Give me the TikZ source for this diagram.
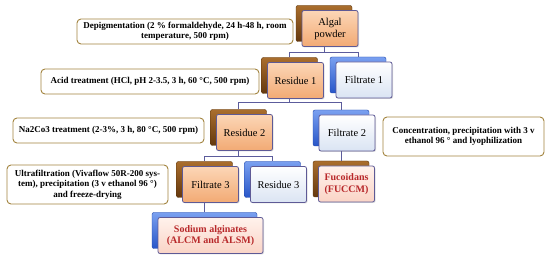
\documentclass[tikz,border=0pt]{standalone}
\usepackage{fontspec}
\setmainfont{Liberation Serif}
\usetikzlibrary{shadows}
\definecolor{frameline}{HTML}{5E5A96}
\definecolor{connline}{HTML}{5C5C9C}
\definecolor{annline}{HTML}{A3843F}
\definecolor{redtext}{HTML}{B8282A}
\begin{document}
\begin{tikzpicture}[x=1pt,y=-1pt,
  front/.style={draw=frameline,line width=0.8pt,rounded corners=2pt,minimum width=56pt,minimum height=36pt,inner sep=1pt,align=center,font=\fontsize{10.5}{12}\selectfont,drop shadow={opacity=0.25,shadow xshift=1pt,shadow yshift=-1pt}},
  orangefront/.style={front,top color={rgb,255:red,252;green,214;blue,182},bottom color={rgb,255:red,242;green,170;blue,116}},
  bluefront/.style={front,top color=white,bottom color={rgb,255:red,218;green,228;blue,243}},
  pinkfront/.style={front,top color={rgb,255:red,255;green,242;blue,236},bottom color={rgb,255:red,250;green,212;blue,198},text=redtext,font=\fontsize{10}{11.5}\selectfont\bfseries},
  back/.style={rounded corners=2pt,minimum width=56pt,minimum height=36pt,inner sep=0pt},
  brownback/.style={back,draw={rgb,255:red,90;green,52;blue,12},top color={rgb,255:red,170;green,110;blue,45},bottom color={rgb,255:red,100;green,56;blue,14}},
  blueback/.style={back,draw={rgb,255:red,30;green,70;blue,170},top color={rgb,255:red,122;green,160;blue,240},bottom color={rgb,255:red,40;green,86;blue,200}},
  ann/.style={draw=annline,line width=0.9pt,rounded corners=4pt,fill=white,align=center,inner sep=1pt,font=\fontsize{9}{10.5}\selectfont\bfseries},
  conn/.style={draw=connline,line width=0.7pt}
]
\useasboundingbox (0,0) rectangle (550,259);
\fill[white] (0,0) rectangle (550,259);

% back boxes (named, used for connectors)
\node[brownback] (algb) at (324,23.5) {};
\node[brownback] (r1b) at (289.5,75.5) {};
\node[blueback] (f1b) at (358,75) {};
\node[brownback] (r2b) at (238.5,127.5) {};
\node[blueback] (f2b) at (341,128) {};
\node[brownback] (f3b) at (204.5,179.5) {};
\node[blueback] (r3b) at (272.5,179.5) {};
\node[brownback] (fucb) at (341,179) {};
\node[blueback,minimum width=105pt] (sodb) at (204.5,230.5) {};

% connectors
\draw[conn] (algb.south) -- ++(0,11) -| (r1b.north);
\draw[conn] (algb.south) -- ++(0,11) -| (f1b.north);
\draw[conn] (r1b.south) -- ++(0,8.5) -| (r2b.north);
\draw[conn] (r1b.south) -- ++(0,8.5) -| (f2b.north);
\draw[conn] (r2b.south) -- ++(0,10.5) -| (f3b.north);
\draw[conn] (r2b.south) -- ++(0,10.5) -| (r3b.north);
\draw[conn] (f2b.south) -- (fucb.north);
\draw[conn] (f3b.south) -- (sodb.north);

% front boxes
\node[orangefront] (alg) at (330,28.5) {Algal\\powder};
\node[orangefront] (r1) at (295.5,80.5) {Residue 1};
\node[bluefront] (f1) at (364,80) {Filtrate 1};
\node[orangefront] (r2) at (244.5,132.5) {Residue 2};
\node[bluefront] (f2) at (347,133) {Filtrate 2};
\node[orangefront] (f3) at (210.5,184.5) {Filtrate 3};
\node[bluefront] (r3) at (278.5,184.5) {Residue 3};
\node[pinkfront] (fuc) at (346.5,184) {Fucoidans\\(FUCCM)};
\node[pinkfront,minimum width=105pt] (sod) at (210.5,235.5) {Sodium alginates\\(ALCM and ALSM)};

% annotations
\node[ann,minimum width=216pt,minimum height=25pt] (dep) at (185,31.5) {Depigmentation (2 \% formaldehyde, 24 h-48 h, room\\temperature, 500 rpm)};
\node[ann,minimum width=218pt,minimum height=25pt] (acid) at (150,81.5) {Acid treatment (HCl, pH 2-3.5, 3 h, 60 °C, 500 rpm)};
\node[ann,minimum width=191pt,minimum height=25pt] (na) at (108.5,130.5) {Na2Co3 treatment (2-3\%, 3 h, 80 °C, 500 rpm)};
\node[ann,minimum width=161pt,minimum height=39pt] (uf) at (87.5,184.5) {Ultrafiltration (Vivaflow 50R-200 sys-\\tem), precipitation (3 v ethanol 96 °)\\and freeze-drying};
\node[ann,minimum width=161pt,minimum height=39pt] (conc) at (463.5,136.5) {Concentration, precipitation with 3 v\\ethanol 96 ° and lyophilization};
\end{tikzpicture}
\end{document}
